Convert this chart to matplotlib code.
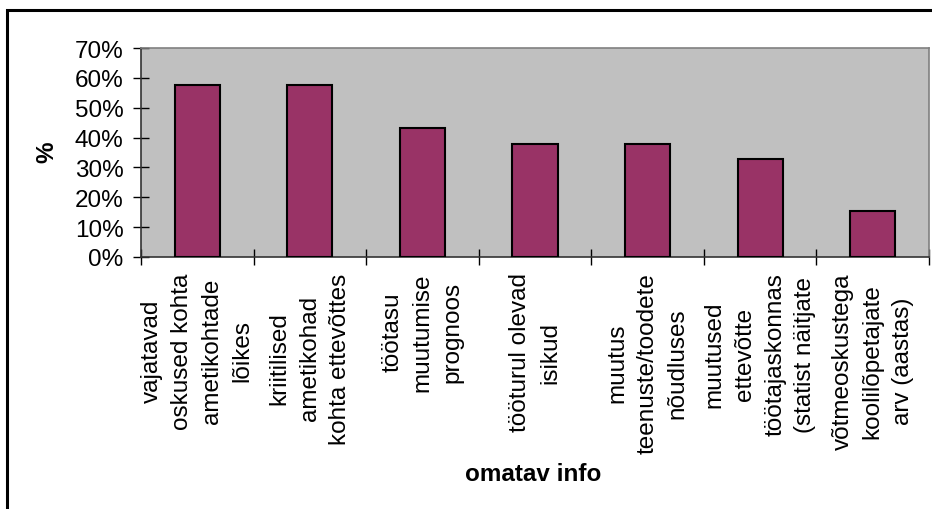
import matplotlib.pyplot as plt
from matplotlib.patches import Rectangle

# categories (wrapped as shown on the axis) and shares in percent
categories = [
    "vajatavad\noskused kohta\nametikohtade\nlõikes",
    "kriitilised\nametikohad\nkohta ettevõttes",
    "töötasu\nmuutumise\nprognoos",
    "tööturul olevad\nisikud",
    "muutus\nteenuste/toodete\nnõudluses",
    "muutused\nettevõtte\ntöötajaskonnas\n(statist näitjate",
    "võtmeoskustega\nkoolilõpetajate\narv (aastas)",
]
values = [57.7, 57.7, 43.2, 37.8, 37.8, 32.9, 15.3]
yticks = [0, 10, 20, 30, 40, 50, 60, 70]
ytick_labels = ["0%", "10%", "20%", "30%", "40%", "50%", "60%", "70%"]

plt.rcParams["font.family"] = ["Liberation Sans", "DejaVu Sans"]
FS = 17.5

W, H = 932, 510
fig = plt.figure(figsize=(W / 100, H / 100), dpi=100)
fig.patch.set_facecolor("white")

# outer chart frame (runs off the right and bottom edges)
fig.patches.append(Rectangle((7 / W, -0.05), 1.0, (H - 11) / H + 0.05,
                             transform=fig.transFigure, fill=False,
                             edgecolor="black", linewidth=2.2))

ax = fig.add_axes([141 / W, (H - 258) / H, (929 - 141) / W, (258 - 49) / H])
ax.set_facecolor("#C0C0C0")

x = list(range(len(values)))
ax.bar(x, values, width=0.4, color="#993366", edgecolor="black", linewidth=1.5, zorder=3)

ax.set_xlim(-0.5, len(values) - 0.5)
ax.set_ylim(0, 70)

ax.set_yticks(yticks)
ax.set_yticklabels(ytick_labels, fontsize=FS)
ax.tick_params(axis="y", direction="inout", length=11, width=1, pad=7)

# boundary ticks (major) and centred category labels (minor)
ax.set_xticks([i - 0.5 for i in range(len(values) + 1)])
ax.set_xticklabels([])
ax.set_xticks(x, minor=True)
ax.set_xticklabels(categories, minor=True, rotation=90, fontsize=FS,
                   ha="center", va="top", multialignment="center",
                   linespacing=1.48)
ax.tick_params(axis="x", which="major", direction="inout", length=11, width=1)
ax.tick_params(axis="x", which="minor", length=0, pad=11)

for side in ("left", "bottom"):
    ax.spines[side].set_color("#333333")
    ax.spines[side].set_linewidth(1.2)
for side in ("top", "right"):
    ax.spines[side].set_color("#808080")
    ax.spines[side].set_linewidth(1.2)

fig.text(47 / W, 1 - 152 / H, "%", rotation=90, fontsize=FS, fontweight="bold",
         ha="center", va="center")
fig.text(533 / W, 1 - 475 / H, "omatav info", fontsize=FS, fontweight="bold",
         ha="center", va="center")

fig.savefig("out.png", dpi=100)
